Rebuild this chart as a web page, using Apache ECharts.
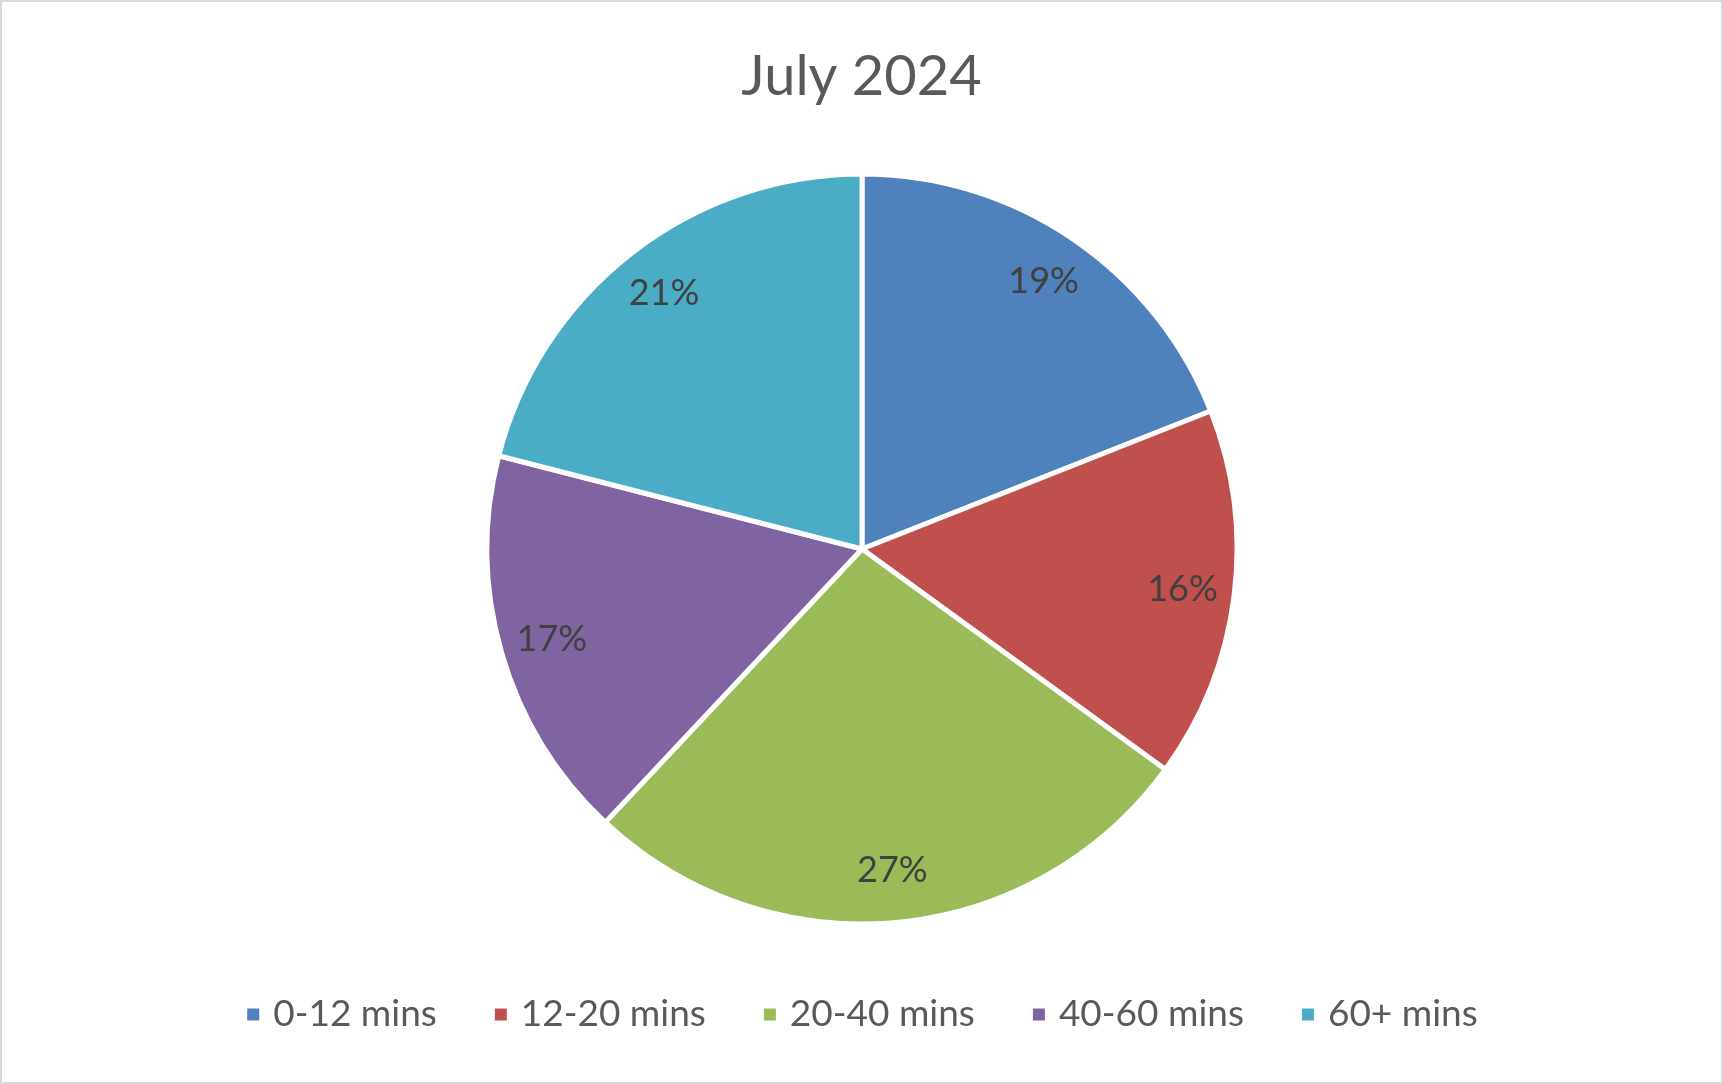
<!DOCTYPE html>
<html><head><meta charset="utf-8">
<script src="https://cdn.jsdelivr.net/npm/echarts@6/dist/echarts.min.js"></script>
<style>html,body{margin:0;padding:0;background:#fff}#c{width:1723px;height:1084px}</style>
</head><body><div id="c"></div>
<script>
const categories = ['0-12 mins', '12-20 mins', '20-40 mins', '40-60 mins', '60+ mins'];
const values = [19, 16, 27, 17, 21];
const colors = ['#4F81BD', '#C0504D', '#9BBB59', '#8064A2', '#4BACC6'];
const titleText = 'July 2024';

const chart = echarts.init(document.getElementById('c'), null, {renderer: 'canvas'});
const data = categories.map((c, i) => ({name: c, value: values[i], itemStyle: {color: colors[i]}}));
const font = 'Lato, "Open Sans", sans-serif';
chart.setOption({
  animation: false,
  backgroundColor: '#fff',
  title: {text: titleText, left: 'center', top: 44, textStyle: {fontFamily: font, fontSize: 56, fontWeight: 'normal', color: '#595959'}},
  legend: {
    bottom: 46, left: 'center', itemWidth: 14, itemHeight: 14, itemGap: 56, icon: 'rect',
    data: categories,
    textStyle: {fontFamily: font, fontSize: 37, color: '#595959', padding: [0, 0, 0, 8]}
  },
  graphic: [{type: 'rect', shape: {x: 1, y: 1, width: 1721, height: 1082}, style: {fill: 'none', stroke: '#d9d9d9', lineWidth: 2}, silent: true}],
  series: [{
    type: 'pie', center: [862, 549], radius: [0, 375], startAngle: 90, clockwise: true,
    data: data,
    itemStyle: {borderColor: '#fff', borderWidth: 5},
    label: {show: false}, labelLine: {show: false}, emphasis: {disabled: true}
  }, {
    type: 'pie', center: [862, 549], radius: [265, 375], startAngle: 90, clockwise: true,
    data: data.map(d => ({name: d.name, value: d.value, itemStyle: {color: 'rgba(0,0,0,0)'}})),
    silent: true, legendHoverLink: false, z: 5,
    itemStyle: {borderWidth: 0},
    label: {show: true, position: 'inside', formatter: p => p.value + '%', fontFamily: font, fontSize: 36, color: '#404040'},
    labelLine: {show: false}, emphasis: {disabled: true}
  }]
});
</script></body></html>
